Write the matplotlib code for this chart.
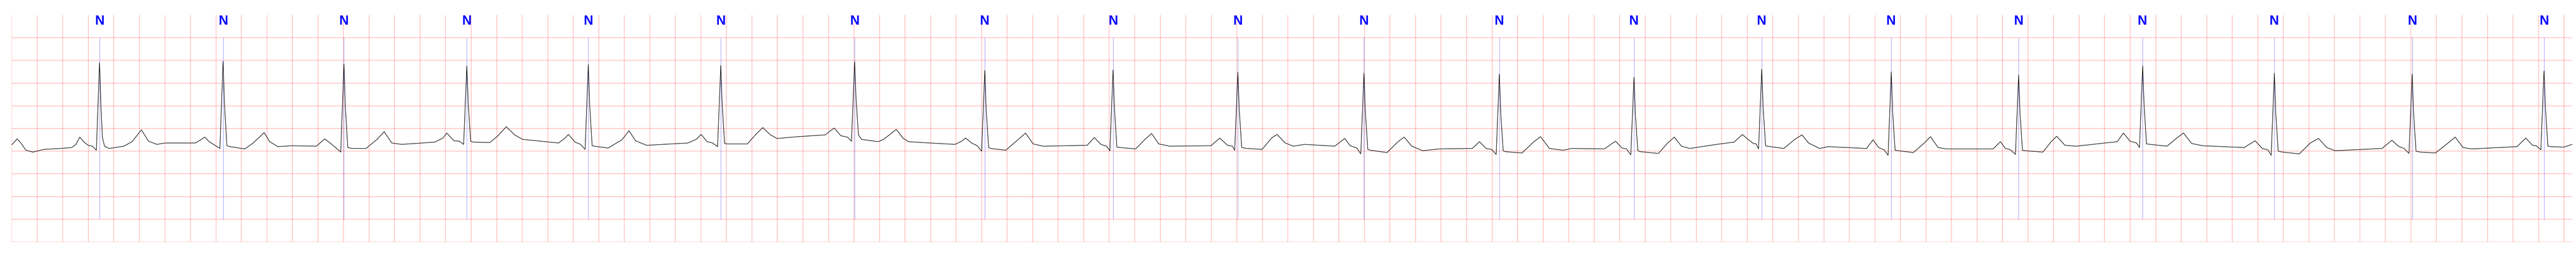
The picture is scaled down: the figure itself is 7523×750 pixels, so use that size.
import numpy as np
import matplotlib
matplotlib.use('Agg')
import matplotlib.pyplot as plt

# ECG trace: (time s, amplitude mV)
ecg = [
    (0.000, 0.14), (0.042, 0.27), (0.072, 0.18), (0.111, 0.02), (0.167, -0.02),
    (0.253, 0.04), (0.382, 0.06), (0.469, 0.08), (0.503, 0.15), (0.533, 0.31),
    (0.563, 0.21), (0.598, 0.13), (0.632, 0.11),
    # beat 1
    (0.663, 0.02), (0.688, 1.95), (0.699, 0.99), (0.710, 0.31), (0.727, 0.11),
    (0.762, 0.06), (0.878, 0.11), (0.943, 0.21), (1.016, 0.47), (1.072, 0.22),
    (1.137, 0.15), (1.202, 0.18), (1.439, 0.18), (1.469, 0.23), (1.512, 0.31),
    (1.547, 0.21), (1.581, 0.15),
    # beat 2
    (1.631, 0.06), (1.656, 1.98), (1.667, 1.02), (1.686, 0.12), (1.710, 0.10),
    (1.827, 0.05), (1.892, 0.18), (1.978, 0.41), (2.021, 0.21), (2.086, 0.10),
    (2.193, 0.12), (2.387, 0.11), (2.452, 0.27), (2.495, 0.18), (2.525, 0.11),
    # beat 3
    (2.578, -0.02), (2.603, 1.92), (2.614, 0.98), (2.633, 0.08), (2.668, 0.06),
    (2.776, 0.06), (2.862, 0.26), (2.918, 0.43), (2.978, 0.18), (3.056, 0.15),
    (3.315, 0.20), (3.379, 0.29), (3.409, 0.40), (3.465, 0.23), (3.508, 0.22),
    # beat 4
    (3.541, 0.15), (3.566, 1.88), (3.577, 1.04), (3.596, 0.22), (3.616, 0.20),
    (3.746, 0.19), (3.810, 0.34), (3.875, 0.54), (3.940, 0.36), (4.004, 0.26),
    (4.285, 0.18), (4.336, 0.29), (4.362, 0.37), (4.414, 0.20), (4.457, 0.15),
    # beat 5
    (4.493, 0.04), (4.518, 1.91), (4.529, 1.00), (4.548, 0.12), (4.565, 0.11),
    (4.673, 0.07), (4.781, 0.25), (4.837, 0.45), (4.888, 0.23), (4.975, 0.13),
    (5.298, 0.18), (5.363, 0.26), (5.402, 0.37), (5.449, 0.21), (5.492, 0.18),
    # beat 6
    (5.531, 0.10), (5.556, 1.89), (5.567, 1.02), (5.586, 0.17), (5.608, 0.16),
    (5.764, 0.16), (5.837, 0.39), (5.885, 0.52), (5.945, 0.36), (5.997, 0.28),
    (6.161, 0.32), (6.376, 0.36), (6.410, 0.44), (6.445, 0.51), (6.497, 0.34),
    (6.549, 0.31),
    # beat 7
    (6.580, 0.22), (6.605, 1.97), (6.616, 1.15), (6.635, 0.36), (6.659, 0.26),
    (6.789, 0.21), (6.832, 0.26), (6.931, 0.48), (6.983, 0.29), (7.026, 0.21),
    (7.133, 0.19), (7.392, 0.15), (7.444, 0.22), (7.474, 0.29), (7.522, 0.18),
    (7.565, 0.12),
    # beat 8
    (7.600, 0.00), (7.625, 1.78), (7.636, 0.90), (7.655, 0.08), (7.672, 0.06),
    (7.789, 0.02), (7.888, 0.26), (7.944, 0.40), (8.004, 0.16), (8.082, 0.11),
    (8.427, 0.13), (8.483, 0.30), (8.535, 0.15), (8.578, 0.11),
    # beat 9
    (8.605, 0.01), (8.630, 1.79), (8.641, 0.92), (8.660, 0.09), (8.686, 0.08),
    (8.807, 0.05), (8.880, 0.26), (8.932, 0.39), (8.988, 0.16), (9.074, 0.11),
    (9.397, 0.12), (9.466, 0.29), (9.527, 0.13), (9.565, 0.11),
    # beat 10
    (9.583, 0.02), (9.608, 1.74), (9.619, 0.90), (9.638, 0.08), (9.678, 0.06),
    (9.798, 0.04), (9.872, 0.29), (9.915, 0.37), (9.979, 0.18), (10.044, 0.11),
    (10.130, 0.15), (10.367, 0.11), (10.445, 0.28), (10.488, 0.12), (10.540, 0.07),
    # beat 11
    (10.571, -0.06), (10.596, 1.72), (10.607, 0.85), (10.626, 0.04), (10.648, 0.02),
    (10.777, -0.03), (10.863, 0.21), (10.911, 0.31), (10.971, 0.11), (11.057, 0.01),
    (11.187, 0.05), (11.445, 0.06), (11.501, 0.21), (11.553, 0.06), (11.596, 0.04),
    # beat 12
    (11.632, -0.07), (11.657, 1.70), (11.668, 0.82), (11.687, 0.01), (11.704, -0.01),
    (11.834, -0.04), (11.928, 0.21), (11.980, 0.32), (12.049, 0.06), (12.157, 0.02),
    (12.222, 0.06), (12.480, 0.05), (12.567, 0.22), (12.618, 0.07), (12.653, 0.05),
    # beat 13
    (12.687, -0.08), (12.712, 1.63), (12.723, 0.80), (12.742, 0.01), (12.761, -0.01),
    (12.903, -0.05), (12.976, 0.18), (13.028, 0.31), (13.084, 0.11), (13.149, 0.06),
    (13.360, 0.15), (13.497, 0.20), (13.562, 0.37), (13.592, 0.29), (13.648, 0.17),
    (13.670, 0.16),
    # beat 14
    (13.688, 0.05), (13.713, 1.81), (13.724, 0.96), (13.743, 0.12), (13.756, 0.11),
    (13.886, 0.06), (13.972, 0.26), (14.028, 0.36), (14.080, 0.18), (14.166, 0.06),
    (14.231, 0.10), (14.534, 0.06), (14.585, 0.25), (14.629, 0.08), (14.672, 0.03),
    # beat 15
    (14.703, -0.09), (14.728, 1.75), (14.739, 0.85), (14.758, 0.02), (14.784, 0.01),
    (14.901, -0.03), (14.987, 0.18), (15.035, 0.32), (15.095, 0.08), (15.160, 0.05),
    (15.527, 0.05), (15.583, 0.21), (15.622, 0.06), (15.657, 0.04),
    # beat 16
    (15.701, -0.07), (15.726, 1.68), (15.737, 0.83), (15.756, 0.02), (15.778, 0.01),
    (15.916, -0.02), (15.981, 0.21), (16.024, 0.33), (16.089, 0.13), (16.175, 0.11),
    (16.499, 0.21), (16.547, 0.40), (16.599, 0.22), (16.650, 0.18),
    # beat 17
    (16.673, 0.08), (16.698, 1.88), (16.709, 1.02), (16.728, 0.16), (16.758, 0.15),
    (16.888, 0.11), (16.966, 0.29), (17.018, 0.40), (17.082, 0.17), (17.169, 0.12),
    (17.493, 0.08), (17.579, 0.23), (17.635, 0.06), (17.679, 0.03),
    # beat 18
    (17.705, -0.09), (17.730, 1.72), (17.741, 0.82), (17.760, 0.00), (17.795, -0.02),
    (17.925, -0.06), (18.011, 0.18), (18.076, 0.28), (18.141, 0.08), (18.206, 0.01),
    (18.573, 0.06), (18.651, 0.24), (18.702, 0.11), (18.746, 0.06),
    # beat 19
    (18.785, -0.05), (18.810, 1.70), (18.821, 0.83), (18.840, 0.00), (18.875, -0.02),
    (18.992, -0.04), (19.091, 0.18), (19.147, 0.31), (19.208, 0.08), (19.277, 0.05),
    (19.631, 0.10), (19.700, 0.29), (19.752, 0.13), (19.782, 0.12),
    # beat 20
    (19.818, 0.03), (19.843, 1.77), (19.854, 0.95), (19.873, 0.11), (19.899, 0.10),
    (19.998, 0.09), (20.063, 0.15),
]

# beat annotations (R peaks)
beat_times = [0.690, 1.657, 2.602, 3.566, 4.518, 5.556, 6.605, 7.624, 8.631, 9.608,
              10.595, 11.657, 12.711, 13.712, 14.726, 15.725, 16.696, 17.729, 18.811, 19.844]
beat_labels = ['N'] * len(beat_times)

t, mv = zip(*ecg)

fig = plt.figure(figsize=(75.23, 7.5), dpi=100)
ax = fig.add_axes([34.3 / 7523, 44 / 750, (7512 - 34.3) / 7523, 662 / 750])

ax.set_xlim(0, 20.064)
ax.set_ylim(-2, 3)

# ECG paper grid
ax.set_xticks(np.arange(0, 20.064, 0.2))
ax.set_yticks(np.arange(-2, 3, 0.5))
ax.grid(True, color='red', alpha=0.25, lw=1.5)
ax.tick_params(length=0, labelbottom=False, labelleft=False)
for s in ax.spines.values():
    s.set_visible(False)

ax.vlines(beat_times, -1.5, 2.5, color='blue', alpha=0.5, lw=0.75)
for bt, lab in zip(beat_times, beat_labels):
    ax.text(bt, 2.79, lab, color='blue', fontweight='bold', fontsize=27.5,
            family='Liberation Sans', ha='center', va='baseline')

ax.plot(t, mv, color='black', lw=1.1)

fig.savefig('out.png', dpi=100)
